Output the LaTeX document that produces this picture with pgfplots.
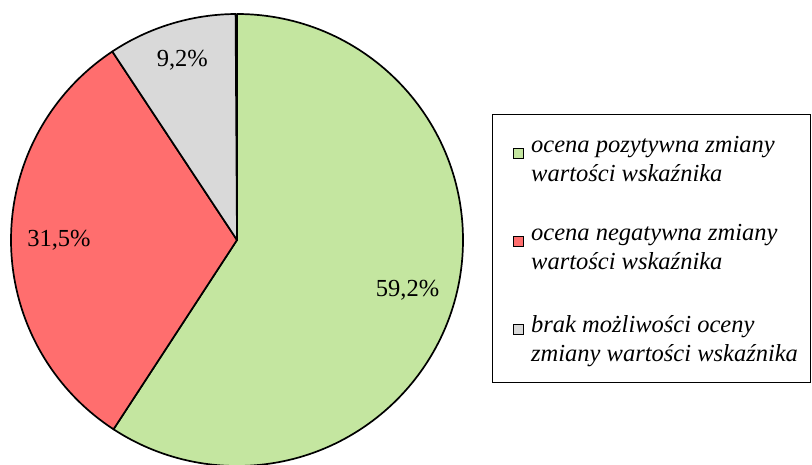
\documentclass[border=0pt]{standalone}
\usepackage{pgfplots}
\usepackage{pgfplotstable}
\pgfplotsset{compat=1.18}
\usepackage{fontspec}
\setmainfont{Liberation Serif}
\definecolor{cgreen}{RGB}{196,230,160}
\definecolor{cred}{RGB}{255,110,110}
\definecolor{cgrey}{RGB}{217,217,217}
\pgfplotstableread{
value color
59.2 cgreen
31.5 cred
9.2 cgrey
}\piedata
\begin{document}
\begin{tikzpicture}
\begin{axis}[
  scale only axis, width=812pt, height=464pt,
  xmin=0, xmax=812, ymin=0, ymax=464,
  hide axis, clip=true,
]
\def\cum{0}
\pgfplotsinvokeforeach{0,1,2}{
  \pgfplotstablegetelem{#1}{value}\of\piedata
  \let\val\pgfplotsretval
  \pgfplotstablegetelem{#1}{color}\of\piedata
  \let\col\pgfplotsretval
  \pgfmathsetmacro\a{90-3.6*\cum}
  \pgfmathsetmacro\b{90-3.6*(\cum+\val)}
  \edef\temp{\noexpand\filldraw[fill=\col, draw=black, line width=1.7pt, line join=round]
     (axis cs:237,224) -- ++(\a:226) arc[start angle=\a, end angle=\b, radius=226] -- cycle;}
  \temp
  \pgfmathsetmacro\cum{\cum+\val}
}
\def\cum{0}
\pgfplotsinvokeforeach{0,1,2}{
  \pgfplotstablegetelem{#1}{value}\of\piedata
  \let\val\pgfplotsretval
  \pgfmathsetmacro\m{90-3.6*(\cum+\val/2)}
  \pgfmathparse{#1==2 ? 188 : 178}\let\rr\pgfmathresult
  \pgfmathsetmacro\px{237+\rr*cos(\m)}
  \pgfmathsetmacro\py{224+\rr*sin(\m)}
  \edef\temp{\noexpand\node[font=\noexpand\fontsize{24.5}{28}\noexpand\selectfont, inner sep=0pt]
     at (axis cs:\px,\py) {\noexpand\pgfmathprintnumber[assume math mode=true, use comma, fixed, precision=1, fixed zerofill]{\val}\noexpand\%};}
  \temp
  \pgfmathsetmacro\cum{\cum+\val}
}
% legend
\draw[black, line width=1pt] (axis cs:492,349) rectangle (axis cs:810,81);
\filldraw[fill=cgreen, draw=black, line width=0.9pt] (axis cs:513,306) rectangle (axis cs:523,316);
\filldraw[fill=cred, draw=black, line width=0.9pt] (axis cs:513,218) rectangle (axis cs:523,228);
\filldraw[fill=cgrey, draw=black, line width=0.9pt] (axis cs:513,130) rectangle (axis cs:523,140);
\begin{scope}[every node/.style={anchor=base west, inner sep=0pt, font=\fontsize{24.5}{28}\selectfont\itshape}]
\node at (axis cs:531,311) {ocena pozytywna zmiany};
\node at (axis cs:531,282) {wartości wskaźnika};
\node at (axis cs:531,223) {ocena negatywna zmiany};
\node at (axis cs:531,194) {wartości wskaźnika};
\node at (axis cs:531,131) {brak możliwości oceny};
\node at (axis cs:531,102) {zmiany wartości wskaźnika};
\end{scope}
\end{axis}
\pgfresetboundingbox
\useasboundingbox (current axis.south west) rectangle (current axis.north east);
\end{tikzpicture}
\end{document}
